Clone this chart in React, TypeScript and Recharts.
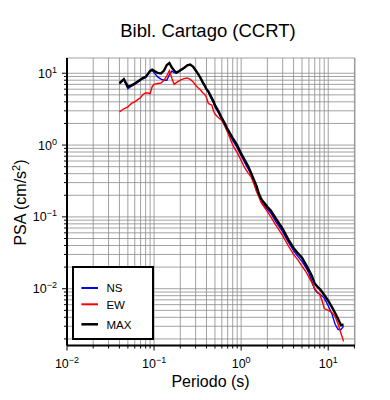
import React from "react";
import { LineChart, Line, XAxis, YAxis, CartesianGrid, Legend } from "recharts";

const FONT = '"Liberation Sans", Arial, Helvetica, sans-serif';

const periods = [
  0.04, 0.045, 0.05, 0.055, 0.06, 0.065, 0.07, 0.075, 0.08, 0.085, 0.09, 0.095,
  0.1, 0.11, 0.12, 0.13, 0.14, 0.15, 0.16, 0.17, 0.18, 0.19, 0.2,
  0.22, 0.24, 0.26, 0.28, 0.3, 0.32, 0.34, 0.36, 0.38, 0.4, 0.42, 0.44, 0.46, 0.48, 0.5,
  0.55, 0.6, 0.65, 0.7, 0.75, 0.8, 0.85, 0.9, 0.95, 1.0,
  1.1, 1.2, 1.3, 1.4, 1.5, 1.6, 1.7, 1.8,
  2.0, 2.2, 2.5, 3.0, 3.5, 4.0, 4.5, 5.0, 5.5, 6.0, 6.5, 7.0, 7.5, 8.0, 8.5, 9.0,
  10, 11, 12, 13, 14, 15,
];

const maxValues = [
  7.3, 8.3, 6.5, 6.8, 7.2, 7.7, 8.2, 8.6, 8.9, 9.8, 10.8, 11.2,
  10.8, 10.1, 9.9, 10.9, 13.0, 13.9, 12.0, 10.9, 10.2, 10.5, 11.0,
  11.8, 12.9, 13.2, 12.4, 11.0, 9.8, 8.7, 7.6, 6.8, 6.0, 5.6, 5.0, 4.5, 4.1, 3.6,
  2.95, 2.37, 2.0, 1.65, 1.43, 1.25, 1.12, 0.99, 0.87, 0.76,
  0.62, 0.51, 0.41, 0.33, 0.27, 0.21, 0.178, 0.162,
  0.138, 0.122, 0.095, 0.068, 0.048, 0.037, 0.031, 0.027, 0.022, 0.0182, 0.015, 0.0118, 0.0107, 0.0099, 0.009, 0.0082,
  0.0068, 0.0056, 0.0046, 0.0038, 0.0031, 0.0032,
];

const nsValues = [
  7.1, 8.1, 6.1, 6.6, 7.0, 7.5, 8.0, 8.4, 8.7, 9.6, 10.6, 11.0,
  10.2, 8.9, 8.3, 8.0, 8.0, 9.6, 10.7, 10.2, 10.0, 10.4, 10.9,
  11.7, 12.8, 13.1, 12.3, 10.9, 9.7, 8.6, 7.5, 6.7, 5.9, 5.4, 4.8, 4.3, 3.9, 3.4,
  2.8, 2.25, 1.85, 1.55, 1.33, 1.16, 1.03, 0.92, 0.81, 0.71,
  0.57, 0.47, 0.39, 0.31, 0.25, 0.195, 0.167, 0.152,
  0.128, 0.112, 0.086, 0.062, 0.044, 0.034, 0.028, 0.024, 0.02, 0.0165, 0.0125, 0.0098, 0.0088, 0.0084, 0.0079, 0.0074,
  0.0058, 0.0045, 0.0032, 0.0027, 0.0027, 0.003,
];

const ewValues = [
  2.9, 3.2, 3.4, 3.8, 4.0, 4.3, 4.6, 5.1, 5.3, 5.3, 5.2, 6.5,
  7.0, 7.2, 7.3, 8.0, 9.2, 10.9, 8.5, 7.0, 7.4, 7.7, 8.0,
  8.4, 8.6, 8.2, 7.6, 6.8, 6.3, 5.9, 5.4, 5.1, 4.6, 3.8, 3.7, 3.6, 3.0, 2.7,
  2.4, 2.2, 1.85, 1.5, 1.22, 1.0, 0.88, 0.79, 0.69, 0.61,
  0.48, 0.41, 0.36, 0.29, 0.225, 0.19, 0.158, 0.143,
  0.118, 0.099, 0.077, 0.055, 0.039, 0.03, 0.025, 0.0206, 0.0175, 0.0145, 0.012, 0.01, 0.009, 0.0084, 0.0068, 0.0053,
  0.005, 0.0047, 0.0041, 0.0032, 0.0024, 0.00185,
];

const xTicks = [
  0.01, 0.02, 0.03, 0.04, 0.05, 0.06, 0.07, 0.08, 0.09,
  0.1, 0.2, 0.3, 0.4, 0.5, 0.6, 0.7, 0.8, 0.9,
  1, 2, 3, 4, 5, 6, 7, 8, 9, 10, 20,
];
const yTicks = [
  0.002, 0.003, 0.004, 0.005, 0.006, 0.007, 0.008, 0.009,
  0.01, 0.02, 0.03, 0.04, 0.05, 0.06, 0.07, 0.08, 0.09,
  0.1, 0.2, 0.3, 0.4, 0.5, 0.6, 0.7, 0.8, 0.9,
  1, 2, 3, 4, 5, 6, 7, 8, 9, 10,
];

const xDomain = [0.01, 20.3];
const yDomain = [0.00162, 16.3];

const title = "Bibl. Cartago (CCRT)";
const xLabel = "Periodo (s)";
const seriesNames = { ns: "NS", ew: "EW", max: "MAX" };

const data = periods.map((T, i) => ({ T, ns: nsValues[i], ew: ewValues[i], max: maxValues[i] }));

const isDecade = (v: number) => Math.abs(Math.log10(v) - Math.round(Math.log10(v))) < 1e-6;
const expText = (v: number) => {
  const e = Math.round(Math.log10(v));
  return e < 0 ? "\u2212" + -e : String(e);
};

const MAJ = 5;
const MIN = 3;

const BottomTick = (props: any) => {
  const { x, y, payload } = props;
  const v = payload.value;
  const d = isDecade(v);
  return (
    <g>
      <line x1={x} x2={x} y1={y} y2={y + (d ? MAJ : MIN)} stroke="#000" strokeWidth={1} />
      {d && (
        <text x={x} y={y + 22} textAnchor="middle" fontSize={12.5} fontFamily={FONT} fill="#000">
          10
          <tspan dy={-5} fontSize={9}>{expText(v)}</tspan>
        </text>
      )}
    </g>
  );
};

const TopTick = (props: any) => {
  const { x, y, payload } = props;
  const d = isDecade(payload.value);
  return <line x1={x} x2={x} y1={y} y2={y - (d ? MAJ + 1 : MIN)} stroke="#000" strokeWidth={1} />;
};

const LeftTick = (props: any) => {
  const { x, y, payload } = props;
  const v = payload.value;
  const d = isDecade(v);
  return (
    <g>
      <line x1={x} x2={x - (d ? MAJ : MIN)} y1={y} y2={y} stroke="#000" strokeWidth={1} />
      {d && (
        <text x={x - 10} y={y + 4.5} textAnchor="end" fontSize={12.5} fontFamily={FONT} fill="#000">
          10
          <tspan dy={-5} fontSize={9}>{expText(v)}</tspan>
        </text>
      )}
    </g>
  );
};

const RightTick = (props: any) => {
  const { x, y, payload } = props;
  const d = isDecade(payload.value);
  return <line x1={x} x2={x + (d ? MAJ : MIN)} y1={y} y2={y} stroke="#000" strokeWidth={1} />;
};

const legendItems = [
  { key: "ns", color: "#0000ff", width: 2, cy: 20 },
  { key: "ew", color: "#ff0000", width: 2, cy: 36.3 },
  { key: "max", color: "#000000", width: 2.5, cy: 56.3 },
];

const renderLegend = () => (
  <div
    style={{
      width: 82,
      height: 74.3,
      boxSizing: "border-box",
      border: "2px solid #000",
      background: "#fff",
    }}
  >
    <svg width={78} height={70.3} style={{ display: "block" }}>
      {legendItems.map((it) => (
        <g key={it.key}>
          <line x1={7.4} x2={24} y1={it.cy} y2={it.cy} stroke={it.color} strokeWidth={it.width} />
          <text x={32.4} y={it.cy + 4.2} fontSize={11.5} fontFamily={FONT} fill="#000">
            {(seriesNames as any)[it.key]}
          </text>
        </g>
      ))}
    </svg>
  </div>
);

export default function App() {
  return (
    <div style={{ position: "relative", width: 374, height: 384 }}>
      <LineChart width={374} height={384} data={data} margin={{ top: 50, right: 27, bottom: 16.5, left: 0 }}>
        <CartesianGrid stroke="#8a8a8a" strokeWidth={0.8} />
        <XAxis
          dataKey="T"
          type="number"
          scale="log"
          domain={xDomain}
          allowDataOverflow
          ticks={xTicks}
          interval={0}
          tickSize={0}
          tickMargin={0}
          tick={BottomTick}
          tickLine={false}
          axisLine={{ stroke: "#000", strokeWidth: 2 }}
          height={30}
        />
        <XAxis
          xAxisId="top"
          orientation="top"
          type="number"
          scale="log"
          domain={xDomain}
          allowDataOverflow
          ticks={xTicks}
          interval={0}
          tickSize={0}
          tickMargin={0}
          tick={TopTick}
          tickLine={false}
          axisLine={{ stroke: "#000", strokeWidth: 2 }}
          height={0}
        />
        <YAxis
          type="number"
          scale="log"
          domain={yDomain}
          allowDataOverflow
          ticks={yTicks}
          interval={0}
          tickSize={0}
          tickMargin={0}
          tick={LeftTick}
          tickLine={false}
          axisLine={{ stroke: "#000", strokeWidth: 2 }}
          width={59}
        />
        <YAxis
          yAxisId="right"
          orientation="right"
          type="number"
          scale="log"
          domain={yDomain}
          allowDataOverflow
          ticks={yTicks}
          interval={0}
          tickSize={0}
          tickMargin={0}
          tick={RightTick}
          tickLine={false}
          axisLine={{ stroke: "#000", strokeWidth: 2 }}
          width={0}
        />
        <Line dataKey="ns" name={seriesNames.ns} stroke="#0000ff" strokeWidth={1.4} dot={false} isAnimationActive={false} />
        <Line dataKey="ew" name={seriesNames.ew} stroke="#ff0000" strokeWidth={1.4} dot={false} isAnimationActive={false} />
        <Line dataKey="max" name={seriesNames.max} stroke="#000000" strokeWidth={2.4} dot={false} isAnimationActive={false} />
        <Legend
          layout="vertical"
          align="center"
          verticalAlign="middle"
          content={renderLegend}
          wrapperStyle={{ left: 64.3, top: 257.7, width: 82, height: 74.3, right: "auto", bottom: "auto" }}
        />
      </LineChart>
      <svg
        width={374}
        height={384}
        style={{ position: "absolute", left: 0, top: 0, pointerEvents: "none" }}
      >
        <text x={200} y={29} textAnchor="middle" fontSize={18.5} fontFamily={FONT} fill="#000">
          {title}
        </text>
        <text x={202.5} y={378.5} textAnchor="middle" fontSize={16} fontFamily={FONT} fill="#000">
          {xLabel}
        </text>
        <text
          transform="translate(18,194.5) rotate(-90)"
          textAnchor="middle"
          fontSize={16}
          fontFamily={FONT}
          fill="#000"
        >
          PSA (cm/s<tspan dy={-6} fontSize={11}>2</tspan>
          <tspan dy={6}>)</tspan>
        </text>
      </svg>
    </div>
  );
}
